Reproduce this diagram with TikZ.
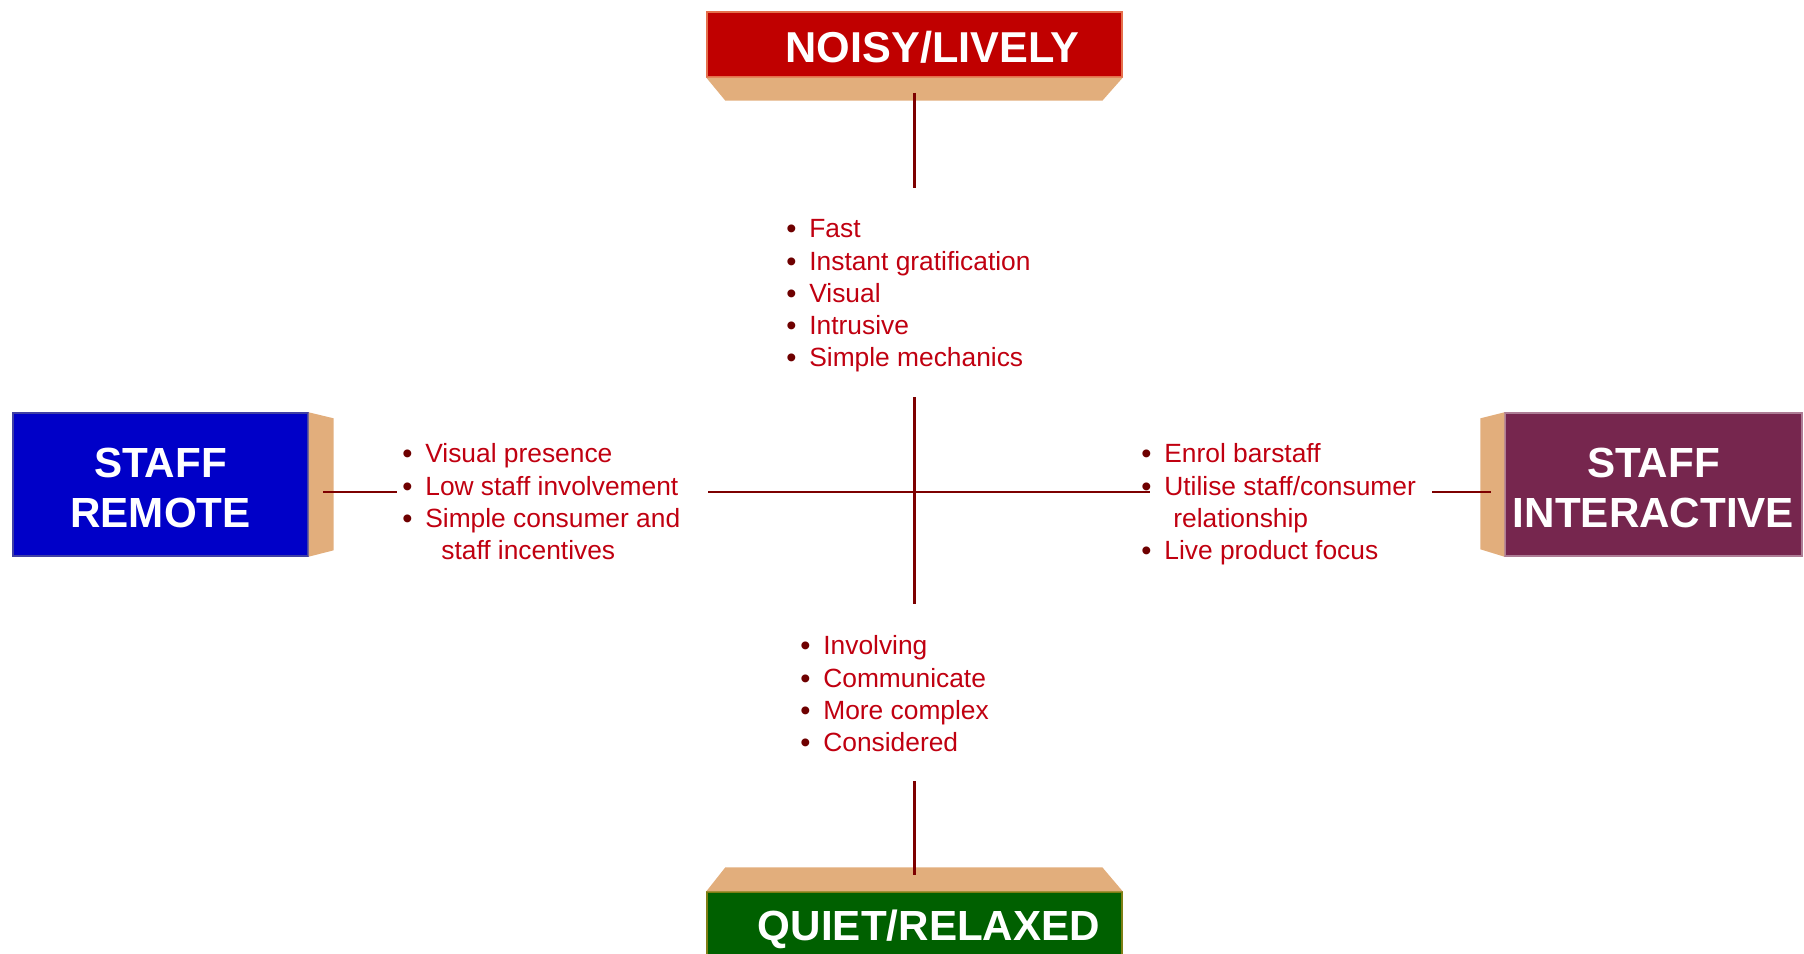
\documentclass[tikz,border=0pt]{standalone}
\usepackage{fontspec}
\setmainfont{Liberation Sans}
\definecolor{noisyred}{RGB}{192,0,0}
\definecolor{remoteblue}{RGB}{0,0,200}
\definecolor{interplum}{RGB}{118,38,78}
\definecolor{quietgreen}{RGB}{0,96,0}
\definecolor{bevelsand}{RGB}{226,174,124}
\definecolor{axisred}{RGB}{125,0,0}
\definecolor{textred}{RGB}{192,0,16}
\definecolor{dotred}{RGB}{110,0,0}
\newcommand{\bitem}{\strut\makebox[0.46cm][l]{\color{dotred}\raisebox{-0.02cm}{\scalebox{1.1}{\textbullet}}}}
\newcommand{\lowered}[2]{\raisebox{-#1}[\height][\depth]{#2}}

\begin{document}
\begin{tikzpicture}[x=0.02cm, y=-0.02cm,
  hdbox/.style={draw, line width=0.8pt, text=white, inner sep=0pt, align=center,
    font=\fontsize{24}{29}\selectfont\bfseries},
  bevel/.style={fill=bevelsand},
  spoke/.style={draw=axisred, line width=1.7pt},
  itemlist/.style={anchor=north west, inner sep=0pt, align=left, text=textred,
    font=\fontsize{15}{18.3}\selectfont}
]
  \clip (0,0) rectangle (1804,953);

  % the four poles
  \node[hdbox, fill=noisyred, draw=noisyred!60!orange!70, minimum width=8.3cm, minimum height=1.3cm]
    (noisy) at (914.5,44.5) {\hspace*{0.72cm}\lowered{0.05cm}{\fontsize{24.6}{29}\selectfont NOISY/LIVELY}};
  \node[hdbox, fill=remoteblue, draw=remoteblue!50!gray, minimum width=5.9cm, minimum height=2.86cm]
    (remote) at (160.5,484.5) {\lowered{0.07cm}{STAFF}\\\lowered{0.07cm}{REMOTE}};
  \node[hdbox, fill=interplum, draw=interplum!60!white, minimum width=5.94cm, minimum height=2.86cm]
    (interact) at (1653.5,484.5) {\lowered{0.07cm}{STAFF}\\\lowered{0.07cm}{INTERACTIVE}};
  \node[hdbox, fill=quietgreen, draw=olive!80!quietgreen, minimum width=8.3cm, minimum height=1.44cm]
    (quiet) at (914.5,928) {\hspace*{0.58cm}\lowered{0.02cm}{QUIET/RELAXED}};

  \path[bevel] (noisy.south west) -- ++(19,23) -- ++(377,0) -- (noisy.south east) -- cycle;
  \path[bevel] (quiet.north west) -- ++(19,-24) -- ++(377,0) -- (quiet.north east) -- cycle;
  \path[bevel] (remote.north east) -- ++(25,6) -- ++(0,132) -- (remote.south east) -- cycle;
  \path[bevel] (interact.north west) -- ++(-24,6) -- ++(0,131) -- (interact.south west) -- cycle;

  % bullet lists
  \node[itemlist] (toplist) at (786,215) {\bitem Fast\\ \bitem Instant gratification\\
    \bitem Visual\\ \bitem Intrusive\\ \bitem Simple mechanics};
  \node[itemlist] (leftlist) at (402,440) {\bitem Visual presence\\ \bitem Low staff involvement\\
    \bitem Simple consumer and\\ \strut\hspace*{0.78cm}staff incentives};
  \node[itemlist] (rightlist) at (1141,440) {\bitem Enrol barstaff\\ \bitem Utilise staff/consumer\\
    \strut\hspace*{0.64cm}relationship\\ \bitem Live product focus};
  \node[itemlist] (botlist) at (800,632) {\bitem Involving\\ \bitem Communicate\\
    \bitem More complex\\ \bitem Considered};

  % axes and spokes
  \coordinate (axN) at (914,397);
  \coordinate (axS) at (914,604);
  \coordinate (axW) at (708,492);
  \coordinate (axE) at (1150,492);
  \coordinate (nsA) at (914,93);
  \coordinate (nsB) at (914,188);
  \coordinate (qsA) at (914,781);
  \coordinate (qsB) at (914,875);
  \coordinate (rsA) at (323,492);
  \coordinate (rsB) at (397,492);
  \coordinate (isA) at (1432,492);
  \coordinate (isB) at (1491,492);

  \draw[spoke] (axN) -- (axS);
  \draw[spoke] (axW) -- (axE);
  \draw[spoke] (nsA) -- (nsB);
  \draw[spoke] (qsA) -- (qsB);
  \draw[spoke] (rsA) -- (rsB);
  \draw[spoke] (isA) -- (isB);
\end{tikzpicture}
\end{document}
